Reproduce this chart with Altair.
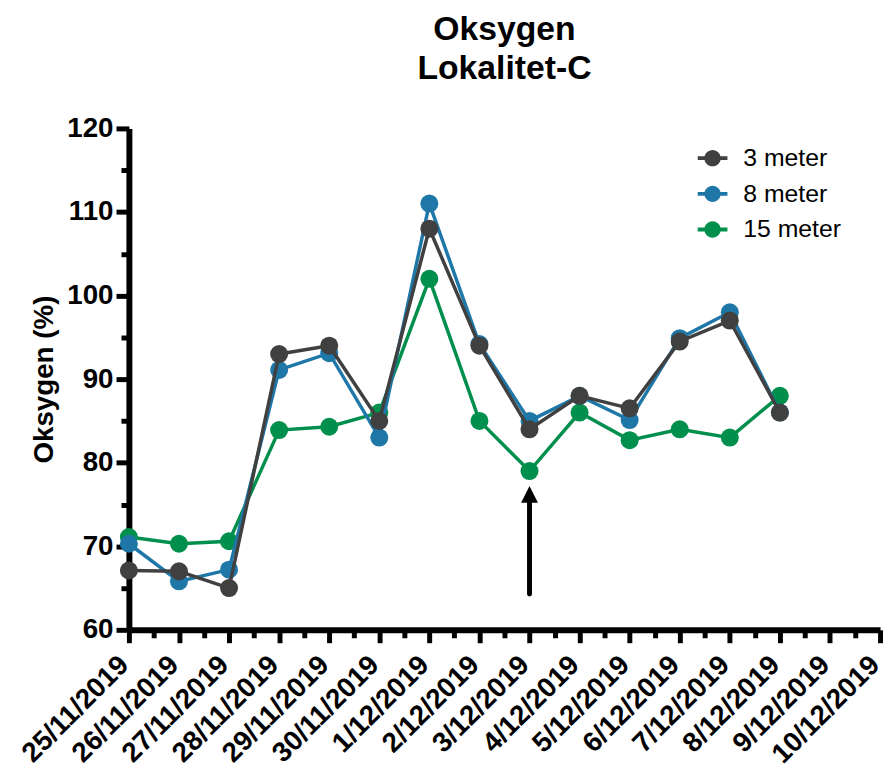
import altair as alt
import pandas as pd

# ---------------- data ----------------
dates = ["25/11/2019", "26/11/2019", "27/11/2019", "28/11/2019", "29/11/2019",
         "30/11/2019", "1/12/2019", "2/12/2019", "3/12/2019", "4/12/2019",
         "5/12/2019", "6/12/2019", "7/12/2019", "8/12/2019", "9/12/2019",
         "10/12/2019"]
series_names = ["3 meter", "8 meter", "15 meter"]
series_colors = ["#404040", "#1F77A8", "#008F4C"]
oxy_3m = [67.1, 67.0, 65.0, 93.0, 94.0, 85.0, 108.0, 94.0, 84.0, 88.0, 86.5, 94.5, 97.0, 86.0]
oxy_8m = [70.3, 65.8, 67.2, 91.1, 93.1, 83.0, 111.0, 94.2, 85.0, 88.0, 85.1, 94.9, 98.0, 86.0]
oxy_15m = [71.1, 70.3, 70.6, 83.9, 84.3, 86.0, 102.0, 85.0, 79.0, 86.0, 82.7, 84.0, 83.0, 88.0]
y_major = [60, 70, 80, 90, 100, 110, 120]
y_minor = [65, 75, 85, 95, 105, 115]
arrow_date = "3/12/2019"
arrow_bottom = 64.3
arrow_head = 76.2

rows = []
for name, vals in zip(series_names, [oxy_3m, oxy_8m, oxy_15m]):
    for i, v in enumerate(vals):
        rows.append({"idx": i, "date": dates[i], "series": name, "value": v})
df = pd.DataFrame(rows)
arrow_df = pd.DataFrame({"idx": [dates.index(arrow_date)],
                         "y0": [arrow_bottom], "y1": [arrow_head]})

FONT = "Liberation Sans"
label_expr = "[" + ",".join("'%s'" % d for d in dates) + "][datum.value]"

x_scale = alt.Scale(domain=[0, len(dates) - 1], nice=False, zero=False)
y_scale = alt.Scale(domain=[60, 120], nice=False, zero=False)
color_scale = alt.Scale(domain=series_names, range=series_colors)

x_major = alt.Axis(orient="bottom", values=list(range(len(dates))), labelExpr=label_expr,
                   labelAngle=-45, labelAlign="right", labelBaseline="middle",
                   labelFont=FONT, labelFontWeight="bold", labelFontSize=28,
                   labelColor="black", labelPadding=18, labelOffset=-5,
                   labelOverlap=False, labelFlush=False, labelBound=False,
                   tickSize=13, tickWidth=5, tickColor="black",
                   domainWidth=6, domainColor="black", grid=False, title=None)
x_minor = alt.Axis(orient="bottom", values=[i + 0.5 for i in range(len(dates) - 1)],
                   labels=False, tickSize=8, tickWidth=5, tickColor="black",
                   domain=False, grid=False, title=None)
y_major_axis = alt.Axis(orient="left", values=y_major, labelFont=FONT,
                        labelFontWeight="bold", labelFontSize=28, labelColor="black",
                        labelPadding=3, tickSize=13, tickWidth=5, tickColor="black",
                        domainWidth=6, domainColor="black", grid=False,
                        title="Oksygen (%)", titleFont=FONT, titleFontSize=28,
                        titleFontWeight="bold", titleColor="black", titlePadding=8,
                        labelFlush=False)
y_minor_axis = alt.Axis(orient="left", values=y_minor, labels=False, tickSize=8,
                        tickWidth=5, tickColor="black", domain=False, grid=False,
                        title=None)

SYMBOL = ("M-1,-0.13L-0.5,-0.13L-0.5,0.13L-1,0.13Z "
          "M0.5,-0.13L1,-0.13L1,0.13L0.5,0.13Z "
          "M-0.55,0A0.55,0.55 0 1,1 0.55,0A0.55,0.55 0 1,1 -0.55,0Z")
legend = alt.Legend(title=None, orient="none", legendX=574, legendY=15,
                    symbolType=SYMBOL, symbolSize=900, symbolStrokeWidth=0,
                    symbolOpacity=1, labelFont=FONT, labelFontSize=25,
                    labelColor="black", labelOffset=16, rowPadding=8)

layers = []
draw_order = ["15 meter", "8 meter", "3 meter"]
for k, name in enumerate(draw_order):
    base = alt.Chart(df).transform_filter(alt.datum.series == name)
    xa_line = x_major if k == 0 else None
    ya_line = y_major_axis if k == 0 else None
    xa_pt = x_minor if k == 0 else None
    ya_pt = y_minor_axis if k == 0 else None
    line = base.mark_line(strokeWidth=3.5).encode(
        x=alt.X("idx:Q", scale=x_scale, axis=xa_line),
        y=alt.Y("value:Q", scale=y_scale, axis=ya_line),
        color=alt.Color("series:N", scale=color_scale, legend=legend),
    )
    pts = base.mark_point(filled=True, size=330, opacity=1).encode(
        x=alt.X("idx:Q", scale=x_scale, axis=xa_pt),
        y=alt.Y("value:Q", scale=y_scale, axis=ya_pt),
        color=alt.Color("series:N", scale=color_scale, legend=legend),
    )
    layers += [line, pts]

rule = alt.Chart(arrow_df).mark_rule(strokeWidth=5, color="black", strokeCap="round").encode(
    x=alt.X("idx:Q", scale=x_scale, axis=None),
    y=alt.Y("y0:Q", scale=y_scale, axis=None),
    y2="y1:Q",
)
head = alt.Chart(arrow_df).mark_point(shape="M0,-1L1,1L-1,1Z", filled=True, color="black",
                                      size=289, opacity=1).encode(
    x=alt.X("idx:Q", scale=x_scale, axis=None),
    y=alt.Y("y1:Q", scale=y_scale, axis=None),
)
layers += [rule, head]

chart = alt.layer(*layers).resolve_axis(x="independent", y="independent").properties(
    width=758, height=506,
    autosize=alt.AutoSizeParams(type="none"),
    padding={"left": 122, "top": 118, "right": 5, "bottom": 145},
    title=alt.TitleParams(text=["Oksygen", "Lokalitet-C"], font=FONT, fontSize=34,
                          fontWeight="bold", color="black", anchor="middle",
                          frame="group", offset=29, lineHeight=39),
).configure_view(stroke=None)

chart.save("out.html", embed_options={"renderer": "svg", "actions": False})
